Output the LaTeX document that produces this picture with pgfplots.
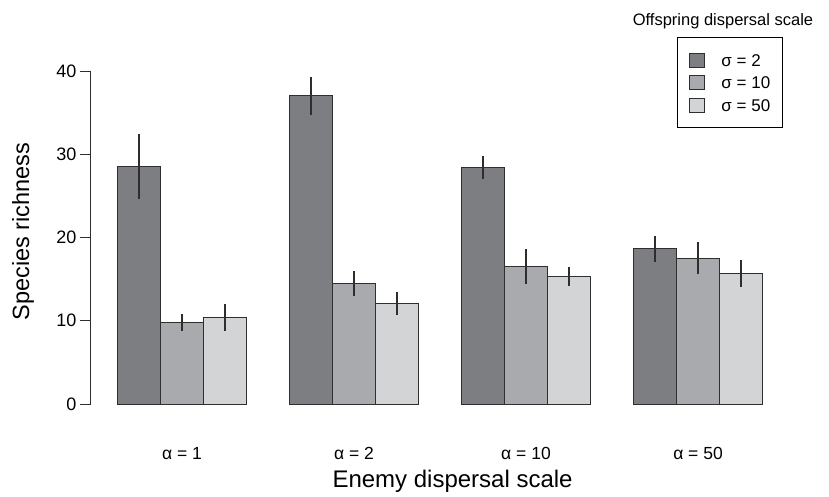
\documentclass[border=0pt]{standalone}
\usepackage{fontspec}
\setmainfont{Liberation Sans}
\usepackage{pgfplots}
\pgfplotsset{compat=1.18}
\definecolor{cA}{HTML}{7D7E82}
\definecolor{cB}{HTML}{A9AAAD}
\definecolor{cC}{HTML}{D3D4D6}
\definecolor{edge}{HTML}{2E2E2E}
\begin{document}
\begin{tikzpicture}
\begin{axis}[
  scale only axis, width=698bp, height=333bp,
  xmin=-0.529, xmax=3.529, ymin=0, ymax=40,
  clip=false,
  axis y line*=left, axis x line*=bottom,
  x axis line style={draw=none},
  y axis line style={edge, line width=1bp},
  ytick={0,10,20,30,40},
  ytick style={edge, line width=1bp},
  tick align=outside, major tick length=11bp,
  xtick={0,1,2,3},
  xticklabels={α = 1, α = 2, α = 10, α = 50},
  x tick style={draw=none},
  xticklabel style={anchor=base, yshift=-44bp, font=\fontsize{17.5bp}{20bp}\selectfont},
  yticklabel style={font=\fontsize{18bp}{20bp}\selectfont},
  /pgf/number format/assume math mode=true,
  xlabel={Enemy dispersal scale},
  ylabel={Species richness},
  xlabel style={at={(axis description cs:0.518,-0.252)}, anchor=base, font=\fontsize{24bp}{26bp}\selectfont},
  ylabel style={at={(axis description cs:-0.0888,0.518)}, anchor=base, font=\fontsize{23.5bp}{26bp}\selectfont},
  ybar=0pt, bar width=0.25,
  legend image code/.code={\draw[#1, line width=1bp] (0bp,-7bp) rectangle (15bp,7bp);},
  legend style={at={(axis description cs:0.991,1.102)}, anchor=north east,
    draw=black, line width=1bp, fill=white,
    font=\fontsize{17bp}{20bp}\selectfont,
    inner xsep=12bp, inner ysep=15bp, row sep=7.5bp,
    nodes={inner sep=0pt, text height=12bp, text depth=0bp},
    /tikz/every odd column/.append style={column sep=16bp}},
  legend cell align=left,
  error bars/error bar style={edge, line width=1.2bp},
]
\addplot[fill=cA, draw=edge, line width=1bp,
  error bars/.cd, y dir=both, y explicit, error mark=none]
  coordinates {(0,28.5) +- (0,3.9) (1,37.0) +- (0,2.3) (2,28.4) +- (0,1.4) (3,18.65) +- (0,1.55)};
\addplot[fill=cB, draw=edge, line width=1bp,
  error bars/.cd, y dir=both, y explicit, error mark=none]
  coordinates {(0,9.8) +- (0,1.0) (1,14.45) +- (0,1.5) (2,16.5) +- (0,2.1) (3,17.5) +- (0,1.9)};
\addplot[fill=cC, draw=edge, line width=1bp,
  error bars/.cd, y dir=both, y explicit, error mark=none]
  coordinates {(0,10.4) +- (0,1.6) (1,12.05) +- (0,1.4) (2,15.3) +- (0,1.1) (3,15.65) +- (0,1.6)};
\legend{σ = 2, σ = 10, σ = 50}
\node[anchor=base, font=\fontsize{16.5bp}{18bp}\selectfont] at (axis description cs:0.9054,1.138) {Offspring dispersal scale};
\coordinate (sw) at (axis description cs:0,0);
\end{axis}
\path (sw) ++(-91bp,-90bp) rectangle ++(829bp,494bp);
\end{tikzpicture}
\end{document}
